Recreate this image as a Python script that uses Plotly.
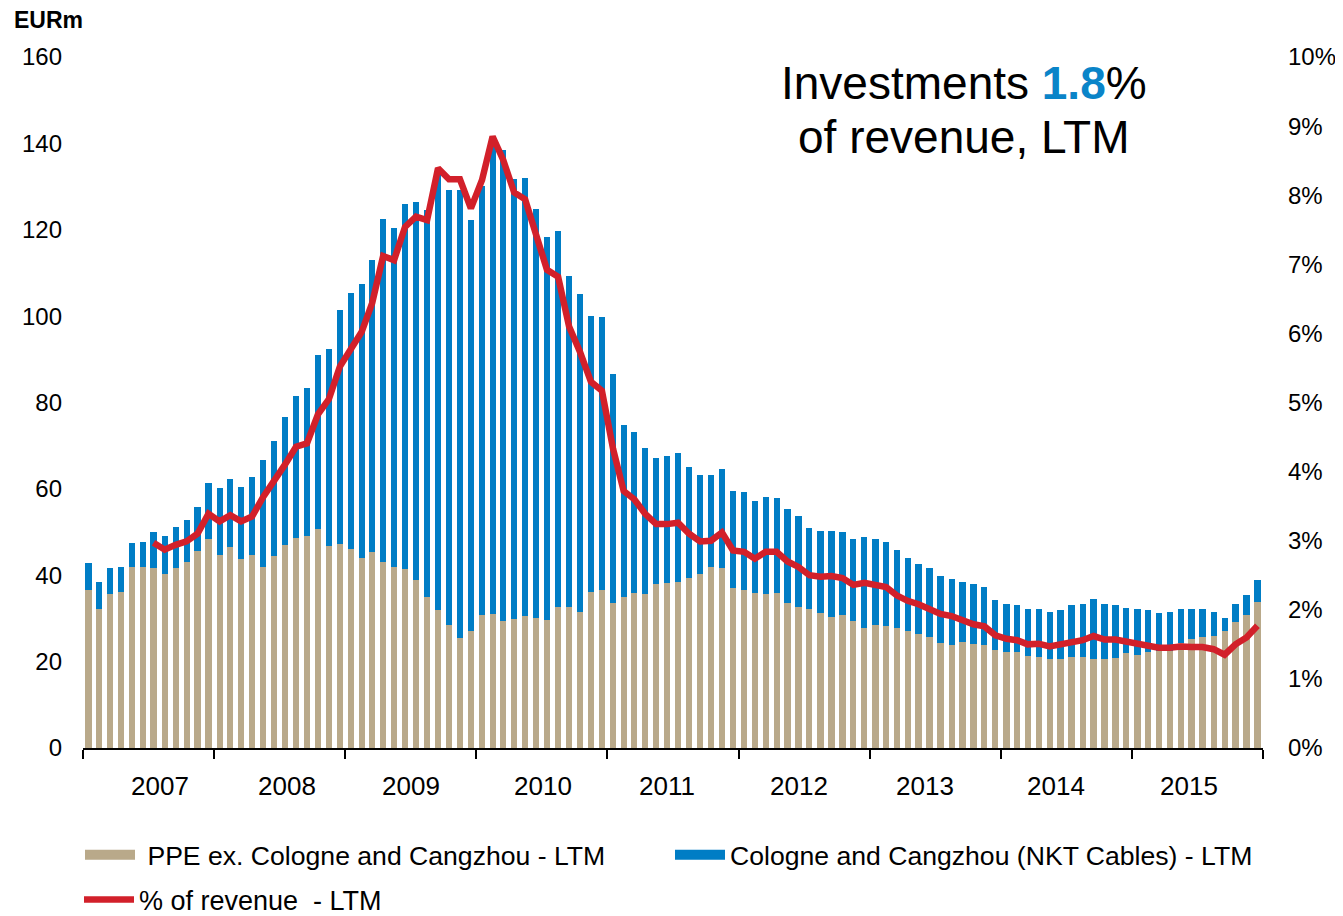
import pandas as pd
import plotly.graph_objects as go

# monthly LTM values, Jan 2007 .. Dec 2015 (EURm)
months = pd.date_range("2007-01-01", periods=108, freq="MS")

ppe = [36.6, 32.3, 35.6, 36.2, 41.8, 41.8, 41.6, 40.2, 41.7, 43.1, 45.6, 48.5,
       44.8, 46.6, 43.7, 44.7, 42.0, 44.5, 47.0, 48.6, 49.2, 50.6, 46.7, 47.2,
       46.1, 43.9, 45.3, 43.1, 41.9, 41.5, 39.0, 34.9, 31.9, 28.4, 25.5, 27.0,
       30.9, 31.0, 29.4, 29.9, 30.5, 30.0, 29.7, 32.7, 32.6, 31.6, 36.2, 36.5,
       33.6, 35.0, 35.8, 35.6, 38.0, 38.2, 38.5, 39.4, 40.3, 42.0, 41.6, 37.1,
       36.7, 35.8, 35.6, 36.0, 33.6, 32.7, 32.1, 31.3, 30.4, 30.7, 29.4, 27.9,
       28.5, 28.2, 27.8, 27.1, 26.5, 25.7, 24.4, 23.9, 24.5, 24.1, 23.8, 22.8,
       22.3, 22.2, 21.3, 21.1, 20.5, 20.6, 21.1, 21.0, 20.5, 20.6, 20.9, 22.0,
       21.6, 22.3, 22.4, 22.4, 24.4, 25.2, 25.7, 25.9, 27.2, 29.1, 30.9, 33.9]

cologne = [6.2, 6.2, 6.0, 5.8, 5.6, 6.0, 8.3, 8.9, 9.4, 9.8, 10.2, 12.8,
           15.3, 15.6, 16.7, 18.0, 24.8, 26.6, 29.6, 32.9, 34.2, 40.3, 45.8, 54.2,
           59.3, 63.5, 67.8, 79.4, 78.4, 84.4, 87.5, 89.6, 101.1, 100.8, 103.7, 95.2,
           99.2, 108.4, 109.0, 101.8, 101.4, 94.8, 88.7, 87.0, 76.7, 73.6, 63.8, 63.3,
           52.9, 39.9, 37.3, 33.8, 29.2, 29.3, 29.7, 25.7, 22.8, 21.2, 23.1, 22.5,
           22.6, 21.5, 22.6, 21.8, 21.8, 21.0, 18.9, 19.0, 19.9, 19.4, 19.1, 21.0,
           19.8, 19.5, 18.0, 16.9, 16.2, 16.0, 15.4, 15.2, 14.0, 13.8, 13.5, 11.4,
           11.1, 10.9, 11.0, 11.2, 11.0, 11.3, 11.9, 12.4, 14.1, 12.7, 12.2, 10.5,
           10.6, 9.6, 8.8, 9.0, 7.8, 7.0, 6.5, 5.6, 3.0, 4.3, 4.5, 5.1]

pct_revenue = [None, None, None, None, None, None, 2.97, 2.87, 2.94, 2.99, 3.10, 3.39,
               3.28, 3.37, 3.28, 3.35, 3.63, 3.85, 4.10, 4.36, 4.41, 4.83, 5.05, 5.52,
               5.78, 6.02, 6.44, 7.12, 7.06, 7.54, 7.69, 7.64, 8.39, 8.23, 8.23, 7.81,
               8.22, 8.85, 8.51, 8.04, 7.94, 7.44, 6.92, 6.82, 6.10, 5.73, 5.30, 5.17,
               4.33, 3.72, 3.60, 3.39, 3.24, 3.24, 3.26, 3.10, 2.99, 3.00, 3.12, 2.86,
               2.84, 2.74, 2.84, 2.84, 2.70, 2.62, 2.50, 2.48, 2.49, 2.46, 2.36, 2.39,
               2.37, 2.33, 2.21, 2.13, 2.08, 2.02, 1.94, 1.91, 1.85, 1.79, 1.76, 1.63,
               1.58, 1.56, 1.50, 1.51, 1.47, 1.50, 1.54, 1.56, 1.62, 1.57, 1.57, 1.54,
               1.52, 1.50, 1.45, 1.45, 1.47, 1.46, 1.46, 1.43, 1.35, 1.50, 1.60, 1.77]

year_labels = ["2007", "2008", "2009", "2010", "2011", "2012", "2013", "2014", "2015"]
left_ticks = [0, 20, 40, 60, 80, 100, 120, 140, 160]
right_ticks = [0, 1, 2, 3, 4, 5, 6, 7, 8, 9, 10]
right_labels = [f"{v}%" for v in right_ticks]

# where the year labels sit, in months from the left edge (as in the original)
year_label_pos = [7.05, 18.67, 30.02, 42.10, 53.45, 65.53, 77.06, 89.05, 101.23]

TAN = "#B9A98A"
BLUE = "#007DC5"
RED = "#D2202A"
FONT = "Liberation Sans, Arial, sans-serif"

# page body has an 8px margin, so the figure is drawn 8px smaller / shifted
W, H = 1335, 908
OFF = 8

fig = go.Figure()

fig.add_trace(go.Bar(x=months, y=ppe, marker_color=TAN, marker_line_width=0,
                     xperiod="M1", xperiodalignment="middle", showlegend=False))
fig.add_trace(go.Bar(x=months, y=cologne, marker_color=BLUE, marker_line_width=0,
                     xperiod="M1", xperiodalignment="middle", showlegend=False))
fig.add_trace(go.Scatter(x=months, y=pct_revenue, yaxis="y2", mode="lines",
                         line=dict(color=RED, width=6.5), xperiod="M1",
                         xperiodalignment="middle", name="% of revenue  - LTM",
                         legend="legend2"))

# legend swatches for the bars (wide rectangles like the original)
fig.add_trace(go.Scatter(x=[None], y=[None], mode="lines", line=dict(color=TAN, width=12),
                         name="\u00a0PPE ex. Cologne and Cangzhou - LTM", legend="legend"))
fig.add_trace(go.Scatter(x=[None], y=[None], mode="lines", line=dict(color=BLUE, width=12),
                         name="Cologne and Cangzhou (NKT Cables) - LTM", legend="legend"))
# empty trace so the year-label axis gets drawn
fig.add_trace(go.Scatter(x=[None], y=[None], xaxis="x2", mode="lines",
                         showlegend=False, hoverinfo="skip"))

pw, ph = 1180, 691  # plot area size in px

fig.update_layout(
    width=W, height=H,
    margin=dict(l=83 - OFF, r=80, t=57 - OFF, b=168, autoexpand=False),
    paper_bgcolor="white", plot_bgcolor="white",
    font=dict(family=FONT, size=24, color="black"),
    barmode="stack", bargap=0.42,
    xaxis=dict(type="date", range=["2007-01-01", "2016-01-01"],
               tick0="2007-01-01", dtick="M12", showticklabels=False,
               ticks="outside", ticklen=9, tickwidth=2,
               tickcolor="black", showline=True, linecolor="black", linewidth=2,
               showgrid=False, zeroline=False),
    xaxis2=dict(overlaying="x", anchor="y", side="bottom", range=[0, 108],
                tickvals=year_label_pos, ticktext=year_labels, ticks="",
                showline=False, showgrid=False, zeroline=False,
                ticklabelstandoff=20, tickfont=dict(size=26)),
    yaxis=dict(range=[0, 160], tickvals=left_ticks, showgrid=False, zeroline=False,
               showline=False, ticks="", ticklabelstandoff=20),
    yaxis2=dict(range=[0, 10], tickvals=right_ticks, ticktext=right_labels,
                overlaying="y", side="right", showgrid=False, zeroline=False,
                showline=False, ticks="", ticklabelstandoff=24),
    legend=dict(orientation="h", xref="container", yref="container",
                x=(80 - OFF) / W, y=1 - (855 - OFF) / H, xanchor="left", yanchor="middle",
                itemwidth=50, entrywidth=525, font=dict(size=26.6), traceorder="normal",
                bgcolor="rgba(0,0,0,0)", itemclick=False),
    legend2=dict(orientation="h", xref="container", yref="container",
                 x=(79 - OFF) / W, y=1 - (900 - OFF) / H, xanchor="left", yanchor="middle",
                 itemwidth=50, font=dict(size=27), bgcolor="rgba(0,0,0,0)"),
    annotations=[
        dict(text="<b>EURm</b>", xref="paper", yref="paper", x=-71 / pw, y=1 + 37 / ph,
             xanchor="left", yanchor="middle", showarrow=False, font=dict(size=23)),
        dict(text="Investments <b><span style='color:#0A84C8'>1.8</span></b>%",
             xref="paper", yref="paper", x=(964 - 83) / pw, y=(748 - 83) / ph,
             xanchor="center", yanchor="middle", showarrow=False, font=dict(size=46)),
        dict(text="of revenue, LTM",
             xref="paper", yref="paper", x=(964 - 83) / pw, y=(748 - 137) / ph,
             xanchor="center", yanchor="middle", showarrow=False, font=dict(size=46)),
    ],
)

fig.write_html("out.html")
